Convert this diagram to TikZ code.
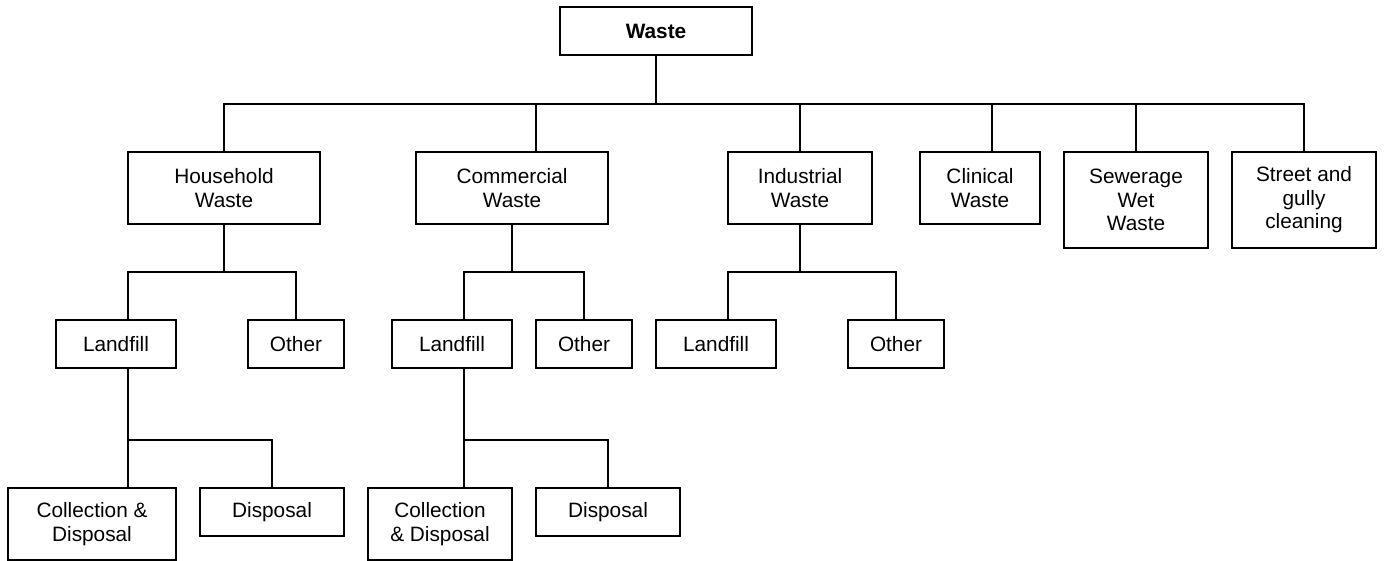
\documentclass[tikz,border=0pt]{standalone}
\usepackage{fontspec}
\setmainfont{Liberation Sans}
\usepackage{tikz}

\tikzset{
	wbox/.style={draw=black,line width=0.9pt,fill=white,align=center,inner sep=0pt,
		font=\fontsize{10.4pt}{11.7pt}\selectfont},
	wline/.style={line width=0.9pt}
}

\begin{document}
\begin{tikzpicture}[x=0.5pt,y=-0.5pt]
	\useasboundingbox (0,0) rectangle (1384,561);

	\coordinate (r1) at (0,104);
	\coordinate (r2) at (0,272);
	\coordinate (r3) at (0,440);

	\node [wbox,minimum width=96pt,minimum height=24pt,font=\fontsize{10.4pt}{11.7pt}\selectfont\bfseries] (waste) at (656,31) {Waste};

	\node [wbox,minimum width=96pt,minimum height=36pt] (hh) at (224,188) {Household\\Waste};
	\node [wbox,minimum width=96pt,minimum height=36pt] (com) at (512,188) {Commercial\\Waste};
	\node [wbox,minimum width=72pt,minimum height=36pt] (ind) at (800,188) {Industrial\\Waste};
	\node [wbox,minimum width=60pt,minimum height=36pt] (cli) at (980,188) {Clinical\\Waste};
	\node [wbox,minimum width=72pt,minimum height=48pt] (sew) at (1136,200) {Sewerage\\Wet\\Waste};
	\node [wbox,minimum width=72pt,minimum height=48pt] (str) at (1304,200) {Street and\\gully\\cleaning};

	\node [wbox,minimum width=60pt,minimum height=24pt] (lf1) at (116,344) {Landfill};
	\node [wbox,minimum width=48pt,minimum height=24pt] (ot1) at (296,344) {Other};
	\node [wbox,minimum width=60pt,minimum height=24pt] (lf2) at (452,344) {Landfill};
	\node [wbox,minimum width=48pt,minimum height=24pt] (ot2) at (584,344) {Other};
	\node [wbox,minimum width=60pt,minimum height=24pt] (lf3) at (716,344) {Landfill};
	\node [wbox,minimum width=48pt,minimum height=24pt] (ot3) at (896,344) {Other};

	\node [wbox,minimum width=84pt,minimum height=36pt] (cd1) at (92,524) {Collection \&\\Disposal};
	\node [wbox,minimum width=72pt,minimum height=24pt] (dp1) at (272,512) {Disposal};
	\node [wbox,minimum width=72pt,minimum height=36pt] (cd2) at (440,524) {Collection\\\& Disposal};
	\node [wbox,minimum width=72pt,minimum height=24pt] (dp2) at (608,512) {Disposal};

	% top level
	\draw[wline] (waste.south) -- (waste.south |- r1);
	\draw[wline] (hh.north) |- (str.north |- r1) -- (str.north);
	\draw[wline] ([xshift=12pt]com.north) -- ([xshift=12pt]com.north |- r1);
	\draw[wline] (ind.north) -- (ind.north |- r1);
	\draw[wline] ([xshift=6pt]cli.north) -- ([xshift=6pt]cli.north |- r1);
	\draw[wline] (sew.north) -- (sew.north |- r1);

	% second level
	\draw[wline] (hh.south) -- (hh.south |- r2);
	\draw[wline] ([xshift=6pt]lf1.north) |- (ot1.north |- r2) -- (ot1.north);
	\draw[wline] (com.south) -- (com.south |- r2);
	\draw[wline] ([xshift=6pt]lf2.north) |- (ot2.north |- r2) -- (ot2.north);
	\draw[wline] (ind.south) -- (ind.south |- r2);
	\draw[wline] ([xshift=6pt]lf3.north) |- (ot3.north |- r2) -- (ot3.north);

	% third level
	\draw[wline] ([xshift=6pt]lf1.south) -- ([xshift=18pt]cd1.north);
	\draw[wline] ([xshift=6pt]lf1.south |- r3) -| (dp1.north);
	\draw[wline] ([xshift=6pt]lf2.south) -- ([xshift=12pt]cd2.north);
	\draw[wline] ([xshift=6pt]lf2.south |- r3) -| (dp2.north);
\end{tikzpicture}
\end{document}
